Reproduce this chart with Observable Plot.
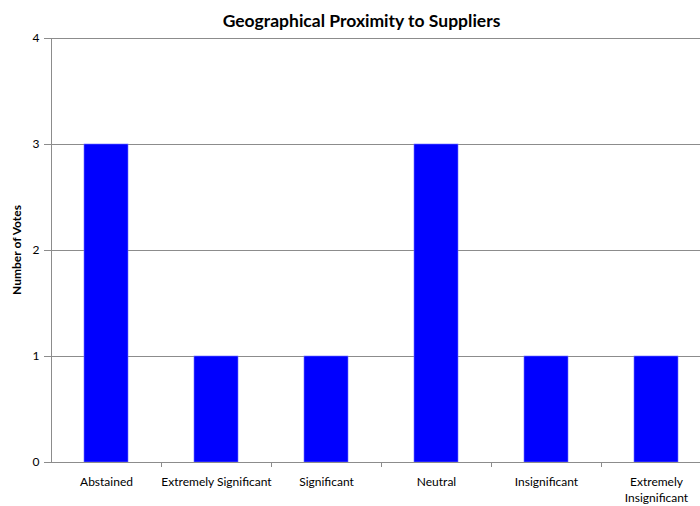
<!DOCTYPE html>
<html>
<head>
<meta charset="utf-8">
<script src="https://cdn.jsdelivr.net/npm/d3@7"></script>
<script src="https://cdn.jsdelivr.net/npm/@observablehq/plot@0.6"></script>
<style>
  html, body { margin: 0; padding: 0; background: #fff; }
  svg { display: block; }
</style>
</head>
<body>
<div id="chart"></div>
<script>
const categories = ["Abstained", "Extremely Significant", "Significant", "Neutral", "Insignificant", "Extremely Insignificant"];
const votes = [3, 1, 1, 3, 1, 1];
const tickLabels = ["Abstained", "Extremely Significant", "Significant", "Neutral", "Insignificant", "Extremely\nInsignificant"];
const yTicks = [0, 1, 2, 3, 4];
const title = "Geographical Proximity to Suppliers";
const yLabel = "Number of Votes";

const data = categories.map((c, i) => ({category: c, votes: votes[i]}));
const fontFamily = "Lato, 'Open Sans', sans-serif";

const chart = Plot.plot({
  width: 700,
  height: 506,
  marginLeft: 51,
  marginRight: -11,
  marginTop: 38,
  marginBottom: 44,
  style: {fontFamily, fontSize: "12px", color: "#000", background: "#fff"},
  x: {domain: categories, paddingInner: 0.6, paddingOuter: 0.3, label: null},
  y: {domain: [0, 4], label: null},
  marks: [
    Plot.gridY(yTicks.slice(1), {stroke: "#8c8c8c", strokeOpacity: 1, strokeWidth: 1}),
    Plot.barY(data, {x: "category", y: "votes", fill: "#0000ff", stroke: "#6f6fff", strokeWidth: 0.6}),
    Plot.ruleY([0], {stroke: "#8c8c8c", strokeWidth: 1}),
    Plot.axisY(yTicks, {tickSize: 7, tickPadding: 5, stroke: "#8c8c8c", fill: "#000", label: null, fontSize: 12, tickFormat: "d"}),
    Plot.axisX({tickSize: 0, tickPadding: 12, label: null, fill: "#000", fontSize: 12,
      tickFormat: (d) => tickLabels[categories.indexOf(d)], lineHeight: 1.33}),
    Plot.text([title], {frameAnchor: "top", dy: -24, dx: -20, fontSize: 17.5, fontWeight: "bold", fill: "#000"})
  ]
});

document.getElementById("chart").appendChild(chart);

// y-axis line, x-axis tick marks at band boundaries and rotated y-axis label
const svg = d3.select(chart);
const xs = chart.scale("x");
const ys = chart.scale("y");
const y0 = ys.apply(0);
const y4 = ys.apply(4);
const half = (xs.step - xs.bandwidth) / 2;
const g = svg.append("g").attr("stroke", "#8c8c8c");
g.append("line").attr("x1", xs.range[0] + 0.5).attr("x2", xs.range[0] + 0.5).attr("y1", y4).attr("y2", y0);
categories.slice(1).forEach((c) => {
  const bx = Math.round(xs.apply(c) - half) + 0.5;
  g.append("line").attr("x1", bx).attr("x2", bx).attr("y1", y0).attr("y2", y0 + 5);
});
svg.append("text")
  .attr("transform", `translate(21,${(y0 + y4) / 2}) rotate(-90)`)
  .attr("text-anchor", "middle")
  .attr("font-family", fontFamily)
  .attr("font-size", 12)
  .attr("font-weight", "bold")
  .attr("fill", "#000")
  .text(yLabel);
</script>
</body>
</html>
